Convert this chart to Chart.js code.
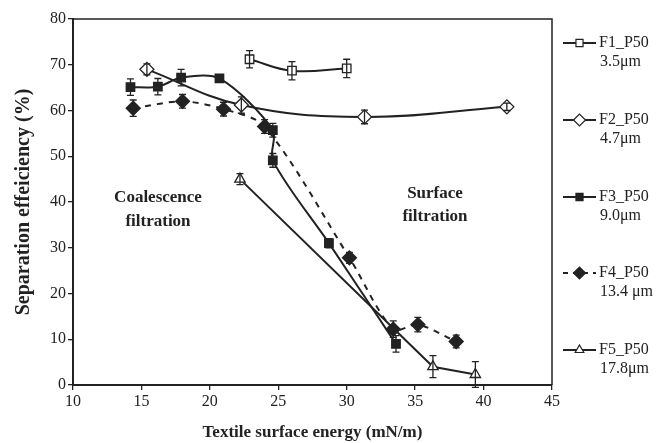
<!DOCTYPE html>
<html>
<head>
<meta charset="utf-8">
<script src="https://cdn.jsdelivr.net/npm/chart.js@4/dist/chart.umd.min.js"></script>
<style>
  body { margin: 0; background: #fff; }
  canvas { display: block; }
</style>
</head>
<body>
<canvas id="chart" width="664" height="443"></canvas>
<script>
// Valores (x = energia superficial, y = eficiência)
const f1X = [22.9, 26.0, 30.0];
const f1Y = [71.2, 68.7, 69.2];
const f1Err = [1.9, 2.0, 2.0];

const f2X = [15.4, 22.3, 31.3, 41.7];
const f2Y = [69.0, 61.2, 58.6, 60.8];
const f2Err = [1.2, 1.8, 1.5, 0.8];

const f3X = [14.2, 16.2, 17.9, 20.7, 24.6, 24.6, 28.7, 33.6];
const f3Y = [65.1, 65.2, 67.2, 67.0, 55.7, 49.1, 31.0, 9.0];
const f3Err = [1.8, 1.8, 1.8, 0.8, 1.5, 1.5, 1.0, 1.8];

const f4X = [14.4, 18.0, 21.0, 24.0, 30.2, 33.4, 35.2, 38.0];
const f4Y = [60.5, 62.0, 60.3, 56.5, 27.8, 12.2, 13.2, 9.5];
const f4Err = [1.8, 1.5, 1.5, 1.5, 1.2, 1.8, 1.6, 1.4];

const f5X = [22.2, 36.3, 39.4];
const f5Y = [45.0, 4.0, 2.3];
const f5Err = [1.2, 2.4, 2.8];

const legendNames = ['F1_P50', 'F2_P50', 'F3_P50', 'F4_P50', 'F5_P50'];
const legendSizes = ['3.5\u03bcm', '4.7\u03bcm', '9.0\u03bcm', '13.4 \u03bcm', '17.8\u03bcm'];

const ink = '#222';
const serif = "'Liberation Serif', 'Times New Roman', serif";

function toPoints(xs, ys) {
    return xs.map((x, i) => ({ x: x, y: ys[i] }));
}

function makeSet(label, xs, ys, errs, style, fill, tension, dash) {
    return {
        label: label,
        data: toPoints(xs, ys),
        errors: errs,
        showLine: true,
        borderColor: ink,
        borderWidth: 2,
        borderDash: dash || [],
        tension: tension,
        pointStyle: style,
        pointRadius: style === 'rectRot' ? 7 : 6,
        pointBackgroundColor: fill,
        pointBorderColor: ink,
        pointBorderWidth: 1.3
    };
}

// Barras de erro desenhadas por cima dos pontos
const errorBars = {
    id: 'errorBars',
    afterDatasetsDraw(chart) {
        const ctx = chart.ctx;
        const yScale = chart.scales.y;
        ctx.save();
        ctx.strokeStyle = ink;
        ctx.lineWidth = 1.3;
        chart.data.datasets.forEach((ds, di) => {
            const meta = chart.getDatasetMeta(di);
            meta.data.forEach((pt, i) => {
                const v = ds.data[i].y;
                const e = ds.errors[i];
                const top = yScale.getPixelForValue(v + e);
                const bot = yScale.getPixelForValue(v - e);
                ctx.beginPath();
                ctx.moveTo(pt.x, top);
                ctx.lineTo(pt.x, bot);
                ctx.moveTo(pt.x - 3.5, top);
                ctx.lineTo(pt.x + 3.5, top);
                ctx.moveTo(pt.x - 3.5, bot);
                ctx.lineTo(pt.x + 3.5, bot);
                ctx.stroke();
            });
        });
        ctx.restore();
    }
};

// Moldura, textos internos e legenda à direita
const decorations = {
    id: 'decorations',
    afterDraw(chart) {
        const ctx = chart.ctx;
        const a = chart.chartArea;
        ctx.save();
        ctx.strokeStyle = ink;
        ctx.lineWidth = 1.5;
        ctx.beginPath();
        ctx.moveTo(a.left, a.top);
        ctx.lineTo(a.right, a.top);
        ctx.lineTo(a.right, a.bottom);
        ctx.stroke();

        ctx.fillStyle = ink;
        ctx.font = 'bold 17px ' + serif;
        ctx.textAlign = 'center';
        ctx.textBaseline = 'middle';
        ctx.fillText('Coalescence', 158, 198);
        ctx.fillText('filtration', 158, 222);
        ctx.fillText('Surface', 435, 194);
        ctx.fillText('filtration', 435, 217);

        const rowsY = [43, 120, 197, 273, 350];
        chart.data.datasets.forEach((ds, i) => {
            const y = rowsY[i];
            ctx.strokeStyle = ink;
            ctx.lineWidth = 2;
            ctx.setLineDash(ds.borderDash.length ? [5, 5] : []);
            ctx.beginPath();
            ctx.moveTo(563, y);
            ctx.lineTo(596, y);
            ctx.stroke();
            ctx.setLineDash([]);
            ctx.fillStyle = ds.pointBackgroundColor;
            ctx.strokeStyle = ink;
            ctx.lineWidth = 1.2;
            Chart.helpers.drawPoint(ctx, {
                pointStyle: ds.pointStyle,
                radius: ds.pointStyle === 'rectRot' ? 6 : 5,
                rotation: 0,
                borderWidth: 1.2
            }, 579.5, y);
            ctx.fillStyle = ink;
            ctx.font = '16px ' + serif;
            ctx.textAlign = 'left';
            ctx.fillText(legendNames[i], 599, y);
            ctx.fillText(legendSizes[i], 600, y + 19);
        });
        ctx.restore();
    }
};

new Chart(document.getElementById('chart'), {
    type: 'scatter',
    data: {
        datasets: [
            makeSet('F1_P50', f1X, f1Y, f1Err, 'rect', '#fff', 0.4),
            makeSet('F2_P50', f2X, f2Y, f2Err, 'rectRot', '#fff', 0.4),
            makeSet('F3_P50', f3X, f3Y, f3Err, 'rect', ink, 0.3),
            makeSet('F4_P50', f4X, f4Y, f4Err, 'rectRot', ink, 0.3, [6, 6]),
            makeSet('F5_P50', f5X, f5Y, f5Err, 'triangle', '#fff', 0)
        ]
    },
    options: {
        responsive: false,
        animation: false,
        layout: { padding: { top: 19, right: 112, left: 0, bottom: 0 } },
        plugins: {
            legend: { display: false },
            tooltip: { enabled: false }
        },
        scales: {
            x: {
                type: 'linear',
                min: 10,
                max: 45,
                afterFit: (s) => { s.height = 58; },
                border: { color: ink, width: 2 },
                grid: { drawOnChartArea: false, drawTicks: true, tickLength: 5, color: ink, lineWidth: 1.3 },
                ticks: { stepSize: 5, color: ink, padding: 2, font: { family: serif, size: 16 } },
                title: {
                    display: true,
                    text: 'Textile surface energy (mN/m)',
                    color: ink,
                    padding: { top: 0, bottom: 0 },
                    font: { family: serif, size: 17, weight: 'bold' }
                }
            },
            y: {
                min: 0,
                max: 80,
                afterFit: (s) => { s.width = 73; },
                border: { color: ink, width: 2 },
                grid: { drawOnChartArea: false, drawTicks: true, tickLength: 5, color: ink, lineWidth: 1.3 },
                ticks: { stepSize: 10, color: ink, padding: 2, font: { family: serif, size: 16 } },
                title: {
                    display: true,
                    text: 'Separation effeiciency (%)',
                    color: ink,
                    padding: { top: 12, bottom: 0 },
                    font: { family: serif, size: 20, weight: 'bold' }
                }
            }
        }
    },
    plugins: [errorBars, decorations]
});
</script>
</body>
</html>
